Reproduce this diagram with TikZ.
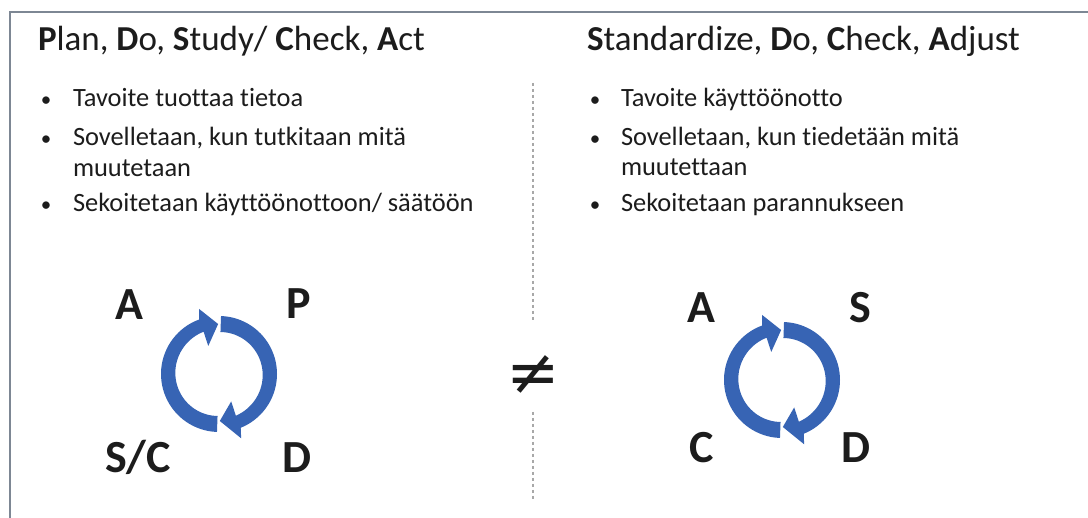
\documentclass[tikz,border=0pt]{standalone}
\usepackage{fontspec}
\setmainfont{Carlito}[Ligatures=NoCommon]
\newfontfamily\symbolfont{DejaVu Sans}
\definecolor{framegray}{HTML}{7D8794}
\definecolor{dashgray}{HTML}{A8A8A8}
\definecolor{arrowblue}{HTML}{3764B4}
\definecolor{ink}{HTML}{1C1C1C}
\tikzset{
  txt/.style={inner sep=0pt, outer sep=0pt, text=ink},
  titletxt/.style={txt, anchor=base west, font=\fontsize{35}{42}\selectfont},
  bultxt/.style={txt, anchor=base west, font=\fontsize{26.4}{31}\selectfont},
  bulmark/.style={txt, anchor=base, font=\fontsize{21}{31}\selectfont},
  lettertxt/.style={txt, anchor=base, font=\fontsize{46}{55}\selectfont\bfseries},
  sep/.style={draw=dashgray, line width=1.2pt, dash pattern=on 3pt off 3pt},
  arc/.style={fill=arrowblue, draw=none}
}
\newcommand{\cyclearrows}{%
  % left (rising) arrow: flat end at bottom, head at top
  \fill[arc] plot[domain=-92:-250, samples=40] ({58*cos(\x)},{58*sin(\x)})
    -- (-253:68) -- (-269:50) -- (-249:30)
    -- plot[domain=-250:-92, samples=40] ({(45-3*(\x+250)/158)*cos(\x)},{(45-3*(\x+250)/158)*sin(\x)})
    -- cycle;
  % right (falling) arrow: flat end at top, head at bottom
  \fill[arc] plot[domain=88:-68, samples=40] ({58*cos(\x)},{58*sin(\x)})
    -- (-71:68) -- (-89:47) -- (-66:30)
    -- plot[domain=-68:88, samples=40] ({(45-3*(68+\x)/156)*cos(\x)},{(45-3*(68+\x)/156)*sin(\x)})
    -- cycle;
}
\begin{document}
\begin{tikzpicture}[x=1pt,y=1pt]
\useasboundingbox (0,0) rectangle (1088,518);
\fill[white] (0,0) rectangle (1088,518);
% frame
\coordinate (fbl) at (10,0);
\coordinate (ftl) at (10,506);
\coordinate (ftr) at (1088,506);
\draw[framegray, line width=1.5pt] (fbl) -- (ftl) -- (ftr);

% titles
\node[titletxt] (t1) at (38,467) {\textbf{P}lan, \textbf{D}o, \textbf{S}tudy/ \textbf{C}heck, \textbf{A}ct};
\node[titletxt] (t2) at (587,467) {\textbf{S}tandardize, \textbf{D}o, \textbf{C}heck, \textbf{A}djust};

% left bullets
\node[bulmark] (lb1) at (46,411) {•};
\node[bultxt]  (lt1) at (73,411) {Tavoite tuottaa tietoa};
\node[bulmark] (lb2) at (46,372) {•};
\node[bultxt]  (lt2) at (73,372) {Sovelletaan, kun tutkitaan mitä};
\node[bultxt]  (lt2b) at (73,341) {muutetaan};
\node[bulmark] (lb3) at (46,306) {•};
\node[bultxt]  (lt3) at (73,306) {Sekoitetaan käyttöönottoon/ säätöön};

% right bullets
\node[bulmark] (rb1) at (595,411) {•};
\node[bultxt]  (rt1) at (621,411) {Tavoite käyttöönotto};
\node[bulmark] (rb2) at (595,372) {•};
\node[bultxt]  (rt2) at (621,372) {Sovelletaan, kun tiedetään mitä};
\node[bultxt]  (rt2b) at (621,342) {muutettaan};
\node[bulmark] (rb3) at (595,306) {•};
\node[bultxt]  (rt3) at (621,306) {Sekoitetaan parannukseen};

% separator
\coordinate (s1a) at (533,435);
\coordinate (s1b) at (533,198);
\coordinate (s2a) at (533,106);
\coordinate (s2b) at (533,18);
\draw[sep] (s1a) -- (s1b);
\draw[sep] (s2a) -- (s2b);
\node[txt, font=\symbolfont\fontsize{64}{70}\selectfont] (neq) at (533,143) {≠};

% left cycle
\begin{scope}[shift={(219,144)}]
\cyclearrows
\end{scope}
\node[lettertxt] (lA) at (129,198) {A};
\node[lettertxt] (lP) at (299,199) {P};
\node[lettertxt] (lS) at (138,45) {S/C};
\node[lettertxt] (lD) at (297,45) {D};

% right cycle
\begin{scope}[shift={(782,138)}]
\cyclearrows
\end{scope}
\node[lettertxt] (rA) at (701,195) {A};
\node[lettertxt] (rS) at (860,195) {S};
\node[lettertxt] (rC) at (702,55) {C};
\node[lettertxt] (rD) at (856,55) {D};
\end{tikzpicture}
\end{document}
